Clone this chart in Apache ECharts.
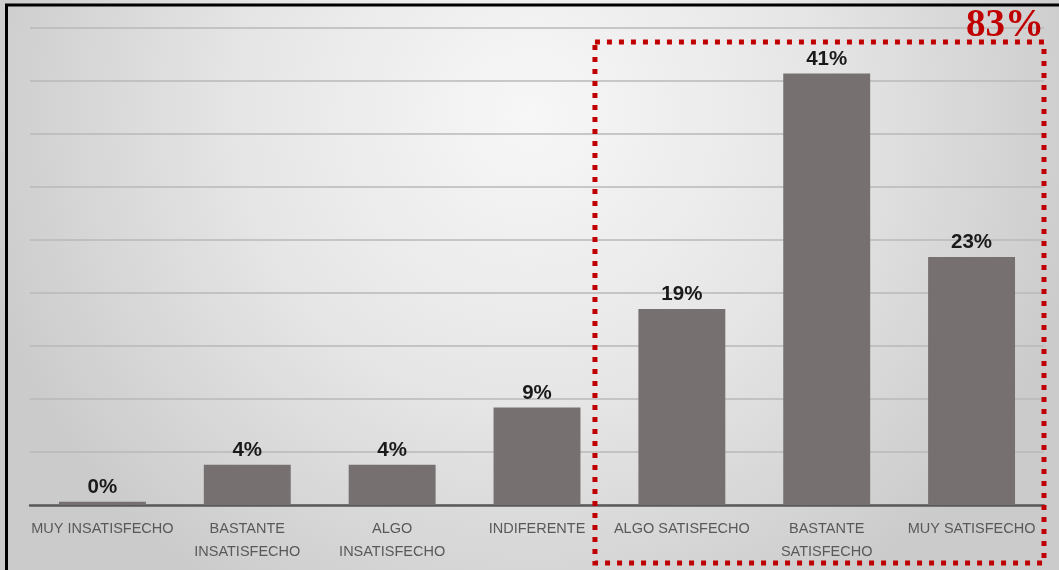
<!DOCTYPE html>
<html>
<head>
<meta charset="utf-8">
<script src="https://cdn.jsdelivr.net/npm/echarts@6/dist/echarts.min.js"></script>
<style>
  html, body { margin: 0; padding: 0; background: #fff; }
  #chart { width: 1059px; height: 570px; }
</style>
</head>
<body>
<div id="chart"></div>
<script>
// categorias y porcentajes
var categorias = [
  'MUY INSATISFECHO',
  'BASTANTE\nINSATISFECHO',
  'ALGO\nINSATISFECHO',
  'INDIFERENTE',
  'ALGO SATISFECHO',
  'BASTANTE\nSATISFECHO',
  'MUY SATISFECHO'
];
var porcentajes = [0.3, 3.8, 3.8, 9.2, 18.5, 40.7, 23.4];
var etiquetas = ['0%', '4%', '4%', '9%', '19%', '41%', '23%'];
var satisfechos = [4, 5, 6]; // indices dentro del recuadro

var chart = echarts.init(document.getElementById('chart'));

var total = 0;
satisfechos.forEach(function (i) { total += parseInt(etiquetas[i], 10); });

var option = {
  animation: false,
  grid: { left: 30, right: 15, top: 28, bottom: 65 },
  xAxis: {
    type: 'category',
    data: categorias,
    axisLine: { lineStyle: { color: '#595959', width: 2.5 } },
    axisTick: { show: false },
    axisLabel: {
      color: '#595959',
      fontSize: 14.5,
      fontFamily: 'Liberation Sans',
      lineHeight: 23,
      margin: 12,
      interval: 0
    }
  },
  yAxis: {
    type: 'value',
    min: 0,
    max: 45,
    interval: 5,
    axisLabel: { show: false },
    axisLine: { show: false },
    axisTick: { show: false },
    splitLine: { lineStyle: { color: '#b9b9b9', width: 1.5 } }
  },
  series: [{
    type: 'bar',
    data: porcentajes,
    barCategoryGap: '40%',
    itemStyle: { color: '#767070' },
    label: {
      show: true,
      position: 'top',
      distance: 4,
      color: '#1a1a1a',
      fontSize: 20.5,
      fontWeight: 'bold',
      fontFamily: 'Liberation Sans',
      formatter: function (p) { return etiquetas[p.dataIndex]; }
    }
  }]
};
chart.setOption(option);

// recuadro punteado alrededor de las categorias satisfechas
var x4 = chart.convertToPixel({ xAxisIndex: 0 }, 4);
var x6 = chart.convertToPixel({ xAxisIndex: 0 }, 6);
var banda = chart.convertToPixel({ xAxisIndex: 0 }, 1) - chart.convertToPixel({ xAxisIndex: 0 }, 0);
var boxLeft = x4 - banda * 0.6;
var boxRight = x6 + banda * 0.5;

chart.setOption({
  graphic: [
    {
      type: 'rect',
      z: -10,
      silent: true,
      shape: { x: 0, y: 0, width: 1059, height: 570 },
      style: {
        fill: new echarts.graphic.RadialGradient(0.5, 0.2, 1, [
          { offset: 0, color: '#f7f7f7' },
          { offset: 0.5, color: '#e6e6e6' },
          { offset: 1, color: '#cbcbcb' }
        ])
      }
    },
    {
      type: 'polyline',
      silent: true,
      shape: { points: [[6.5, 570], [6.5, 5], [1059, 5]] },
      style: { stroke: '#000', lineWidth: 3, fill: null }
    },
    {
      type: 'rect',
      silent: true,
      z: 100,
      shape: { x: boxLeft, y: 42, width: boxRight - boxLeft, height: 521 },
      style: { fill: null, stroke: '#c00000', lineWidth: 5, lineDash: [5, 7] }
    },
    {
      type: 'text',
      z: 100,
      x: 1044,
      y: 26,
      style: {
        text: total + '%',
        fill: '#c00000',
        font: 'bold 39px "Liberation Serif"',
        align: 'right',
        verticalAlign: 'middle'
      }
    }
  ]
});
</script>
</body>
</html>
